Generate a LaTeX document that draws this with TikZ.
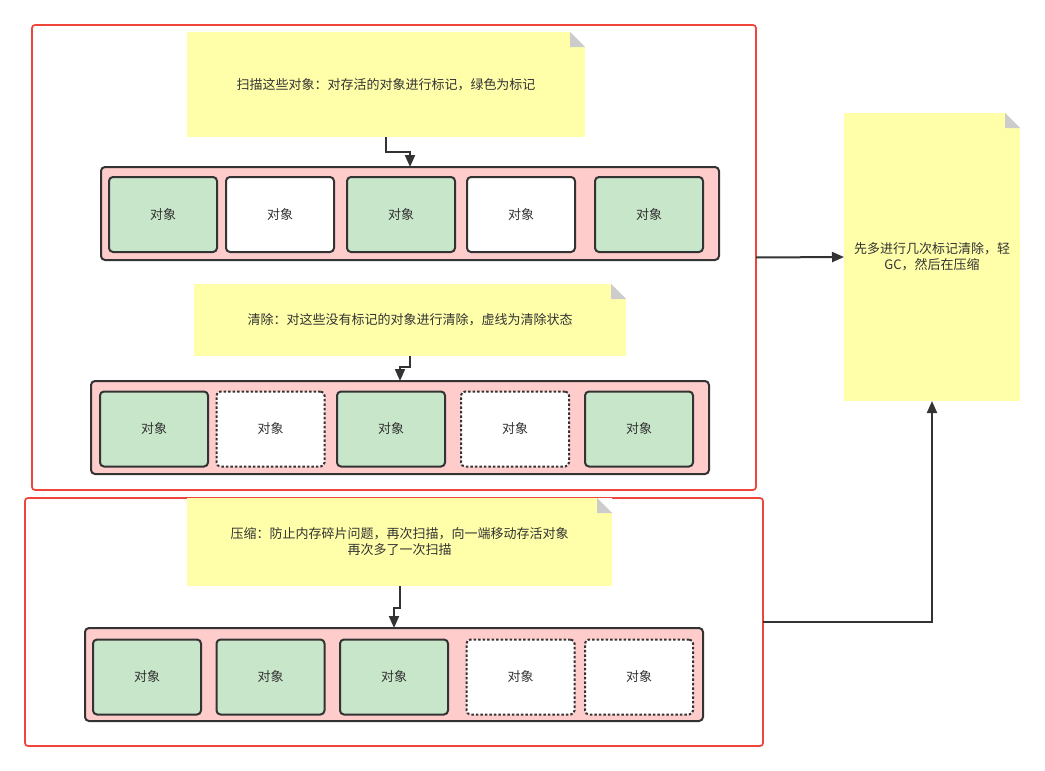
\documentclass[tikz,border=0pt]{standalone}
\usepackage{fontspec}
\setmainfont{Noto Sans CJK SC}
\usetikzlibrary{arrows.meta}
\definecolor{redc}{HTML}{F0453A}
\definecolor{darkc}{HTML}{333333}
\definecolor{pinkc}{HTML}{FFCCCC}
\definecolor{greenc}{HTML}{C8E6C9}
\definecolor{notec}{HTML}{FFFFAA}
\definecolor{foldc}{HTML}{CCCCCC}
\tikzset{
  container/.style={draw=redc, line width=1.7pt, rounded corners=3pt, inner sep=0pt, outer sep=0pt, fill=none},
  rowbox/.style={draw=darkc, fill=pinkc, line width=2pt, rounded corners=4pt, inner sep=0pt, outer sep=0pt, minimum width=618pt, minimum height=93pt},
  obj/.style={draw=darkc, line width=2pt, rounded corners=4pt, inner sep=0pt, minimum width=108pt, minimum height=75pt, text=darkc, font=\fontsize{13}{15}\selectfont},
  live/.style={obj, fill=greenc},
  dead/.style={obj, fill=white},
  gone/.style={obj, fill=white, dash pattern=on 2.5pt off 2pt},
  note/.style={fill=notec, inner sep=0pt, outer sep=0pt, align=center, text=darkc, font=\fontsize{13}{16}\selectfont},
  conn/.style={draw=darkc, line width=2pt, -{Triangle[length=12pt,width=10pt]}},
}
\newcommand{\fold}[1]{%
  \fill[white] (#1.north east) -- ++(-15pt,0) -- ++(15pt,-15pt) -- cycle;
  \fill[foldc] ([xshift=-15pt]#1.north east) -- ++(0,-15pt) -- ++(15pt,0) -- cycle;}
\begin{document}
\begin{tikzpicture}[x=1pt,y=-1pt]
\useasboundingbox (0,0) rectangle (1045,771);
\fill[white] (0,0) rectangle (1045,771);
% containers
\node[container, minimum width=724pt, minimum height=465pt] (c1) at (394,257.5) {};
\node[container, minimum width=738pt, minimum height=248pt] (c2) at (394,622) {};
% notes
\node[note, minimum width=398pt, minimum height=105pt] (n1) at (386,84.5) {扫描这些对象：对存活的对象进行标记，绿色为标记};
\fold{n1}
\node[note, minimum width=432pt, minimum height=72pt] (n2) at (410,320) {清除：对这些没有标记的对象进行清除，虚线为清除状态};
\fold{n2}
\node[note, minimum width=425pt, minimum height=88pt] (n3) at (399.5,542) {压缩：防止内存碎片问题，再次扫描，向一端移动存活对象\\再次多了一次扫描};
\fold{n3}
\node[note, minimum width=176pt, minimum height=288pt] (n4) at (932,257) {先多进行几次标记清除，轻\\GC，然后在压缩};
\fold{n4}
% row 1
\node[rowbox] (r1) at (410,213.5) {};
\node[live] (a1) at (163,214.5) {对象};
\node[dead] (a2) at (280,214.5) {对象};
\node[live] (a3) at (401,214.5) {对象};
\node[dead] (a4) at (521,214.5) {对象};
\node[live] (a5) at (649,214.5) {对象};
% row 2
\node[rowbox] (r2) at (400,427.5) {};
\node[live] (b1) at (154,429) {对象};
\node[gone] (b2) at (270.5,429) {对象};
\node[live] (b3) at (391,429) {对象};
\node[gone] (b4) at (515,429) {对象};
\node[live] (b5) at (639,429) {对象};
% row 3
\node[rowbox] (r3) at (394,674.5) {};
\node[live] (d1) at (147,677) {对象};
\node[live] (d2) at (270.5,677) {对象};
\node[live] (d3) at (394,677) {对象};
\node[gone] (d4) at (520.5,677) {对象};
\node[gone] (d5) at (639,677) {对象};
% connectors
\draw[conn] (n1.south) -- ++(0,15) -| (r1.north);
\draw[conn] (n2.south) -- ++(0,11) -| (r2.north);
\draw[conn] (n3.south) -- ++(0,22) -| (r3.north);
\draw[conn] (c1.east) -- (n4.west);
\draw[conn] (c2.east) -| (n4.south);
\end{tikzpicture}
\end{document}
